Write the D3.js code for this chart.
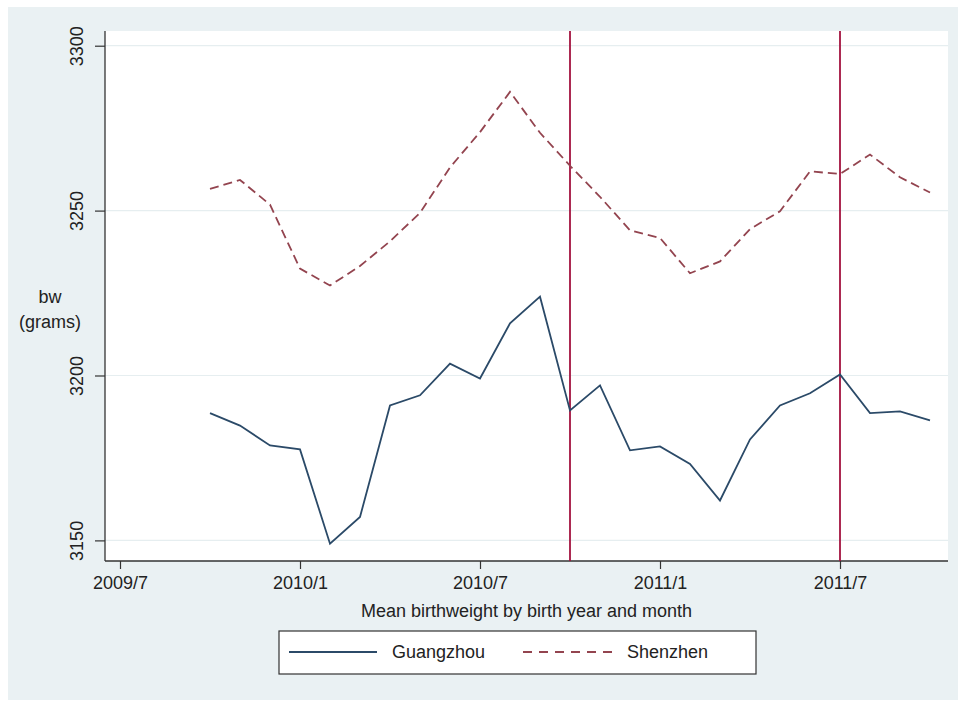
<!DOCTYPE html>
<html>
<head>
<meta charset="utf-8">
<script src="https://cdn.jsdelivr.net/npm/d3@7"></script>
<style>
  body { margin: 0; background: #fff; }
  text { font-family: "Liberation Sans", Arial, sans-serif; fill: #222; }
</style>
</head>
<body>
<script>
var w = 958;
var h = 702;

// months from 2009/10 to 2011/10
var months = ["2009/10","2009/11","2009/12","2010/1","2010/2","2010/3","2010/4","2010/5","2010/6",
    "2010/7","2010/8","2010/9","2010/10","2010/11","2010/12","2011/1","2011/2","2011/3","2011/4",
    "2011/5","2011/6","2011/7","2011/8","2011/9","2011/10"];
var guangzhou = [3188.6,3184.8,3178.8,3177.6,3149.0,3157.1,3190.9,3194.0,3203.6,3199.1,3215.8,3223.9,
    3189.4,3197.0,3177.3,3178.5,3173.2,3162.1,3180.6,3190.9,3194.6,3200.3,3188.6,3189.1,3186.4];
var shenzhen = [3256.6,3259.3,3251.8,3232.4,3227.3,3233.2,3240.7,3249.3,3263.1,3273.8,3286.0,3273.6,
    3263.6,3254.2,3244.0,3241.7,3231.0,3234.6,3244.4,3249.8,3261.9,3261.1,3267.0,3260.1,3255.5];
var xticks = ["2009/7","2010/1","2010/7","2011/1","2011/7"];
var yticks = [3150, 3200, 3250, 3300];
var vlines = ["2010/10","2011/7"];

// month index, 2009/7 = 0
function mi(s) {
    var p = s.split("/");
    return (+p[0] - 2009) * 12 + (+p[1] - 7);
}

var pLeft = 105, pRight = 948, pTop = 31, pBottom = 561;

var svg = d3.select("body")
    .append("svg")
    .attr("width", w)
    .attr("height", h);

svg.append("rect")
    .attr("x", 8).attr("y", 7)
    .attr("width", w - 8).attr("height", 693)
    .attr("fill", "#eaf1f3");

svg.append("rect")
    .attr("x", pLeft).attr("y", pTop)
    .attr("width", pRight - pLeft).attr("height", pBottom - pTop)
    .attr("fill", "#fff");

var xScale = d3.scaleLinear().domain([-0.5, 27.6]).range([pLeft, pRight]);
var yScale = d3.scaleLinear().domain([3143.75, 3304.46]).range([pBottom, pTop]);

// grid
svg.selectAll("line.grid")
    .data(yticks)
    .join("line")
    .attr("class", "grid")
    .attr("x1", pLeft).attr("x2", pRight)
    .attr("y1", d => yScale(d)).attr("y2", d => yScale(d))
    .attr("stroke", "#e6eef0")
    .attr("stroke-width", 1.2);

// y axis
var yAxis = d3.axisLeft(yScale).tickValues(yticks).tickSize(10).tickFormat(d3.format("d"));
var gy = svg.append("g")
    .attr("transform", "translate(" + pLeft + ",0)")
    .call(yAxis);
gy.select(".domain").attr("stroke", "#333").attr("stroke-width", 1.3)
    .attr("d", "M0," + pTop + "V" + pBottom);
gy.selectAll(".tick line").attr("stroke", "#333").attr("stroke-width", 1.2);
gy.selectAll(".tick text")
    .attr("font-size", 18)
    .attr("x", 0).attr("y", 0).attr("dy", 0)
    .attr("text-anchor", "middle")
    .attr("transform", "translate(-22,0) rotate(-90)")
    .attr("font-family", "Liberation Sans, Arial, sans-serif")
    .attr("fill", "#222");

// x axis
var xAxis = d3.axisBottom(xScale).tickValues(xticks.map(mi)).tickSize(8)
    .tickFormat((d, i) => xticks[i]);
var gx = svg.append("g")
    .attr("transform", "translate(0," + pBottom + ")")
    .call(xAxis);
gx.select(".domain").attr("stroke", "#333").attr("stroke-width", 1.5)
    .attr("d", "M" + pLeft + ",0H" + pRight);
gx.selectAll(".tick line").attr("stroke", "#333").attr("stroke-width", 1.2);
gx.selectAll(".tick text")
    .attr("font-size", 18)
    .attr("y", 28).attr("dy", 0)
    .attr("font-family", "Liberation Sans, Arial, sans-serif")
    .attr("fill", "#222");

// vertical reference lines
svg.selectAll("line.vline")
    .data(vlines)
    .join("line")
    .attr("class", "vline")
    .attr("x1", d => xScale(mi(d))).attr("x2", d => xScale(mi(d)))
    .attr("y1", pTop).attr("y2", pBottom)
    .attr("stroke", "#a3123f")
    .attr("stroke-width", 1.8);

var line = d3.line()
    .x((d, i) => xScale(mi(months[i])))
    .y(d => yScale(d));

svg.append("path")
    .datum(guangzhou)
    .attr("d", line)
    .attr("fill", "none")
    .attr("stroke", "#2b4a68")
    .attr("stroke-width", 1.8);

svg.append("path")
    .datum(shenzhen)
    .attr("d", line)
    .attr("fill", "none")
    .attr("stroke", "#93444f")
    .attr("stroke-width", 1.8)
    .attr("stroke-dasharray", "9,5");

// axis titles
svg.append("text")
    .attr("x", 50).attr("y", 303)
    .attr("text-anchor", "middle")
    .attr("font-size", 18)
    .text("bw");
svg.append("text")
    .attr("x", 50).attr("y", 328)
    .attr("text-anchor", "middle")
    .attr("font-size", 18)
    .text("(grams)");

svg.append("text")
    .attr("x", (pLeft + pRight) / 2).attr("y", 617)
    .attr("text-anchor", "middle")
    .attr("font-size", 18)
    .text("Mean birthweight by birth year and month");

// legend
var legend = svg.append("g");
legend.append("rect")
    .attr("x", 279).attr("y", 631)
    .attr("width", 477).attr("height", 43)
    .attr("fill", "#fff")
    .attr("stroke", "#333")
    .attr("stroke-width", 1.2);
legend.append("line")
    .attr("x1", 289).attr("x2", 377).attr("y1", 652).attr("y2", 652)
    .attr("stroke", "#2b4a68").attr("stroke-width", 1.8);
legend.append("text")
    .attr("x", 392).attr("y", 658)
    .attr("font-size", 18)
    .text("Guangzhou");
legend.append("line")
    .attr("x1", 523).attr("x2", 613).attr("y1", 652).attr("y2", 652)
    .attr("stroke", "#93444f").attr("stroke-width", 1.8)
    .attr("stroke-dasharray", "9,7");
legend.append("text")
    .attr("x", 627).attr("y", 658)
    .attr("font-size", 18)
    .text("Shenzhen");
</script>
</body>
</html>
